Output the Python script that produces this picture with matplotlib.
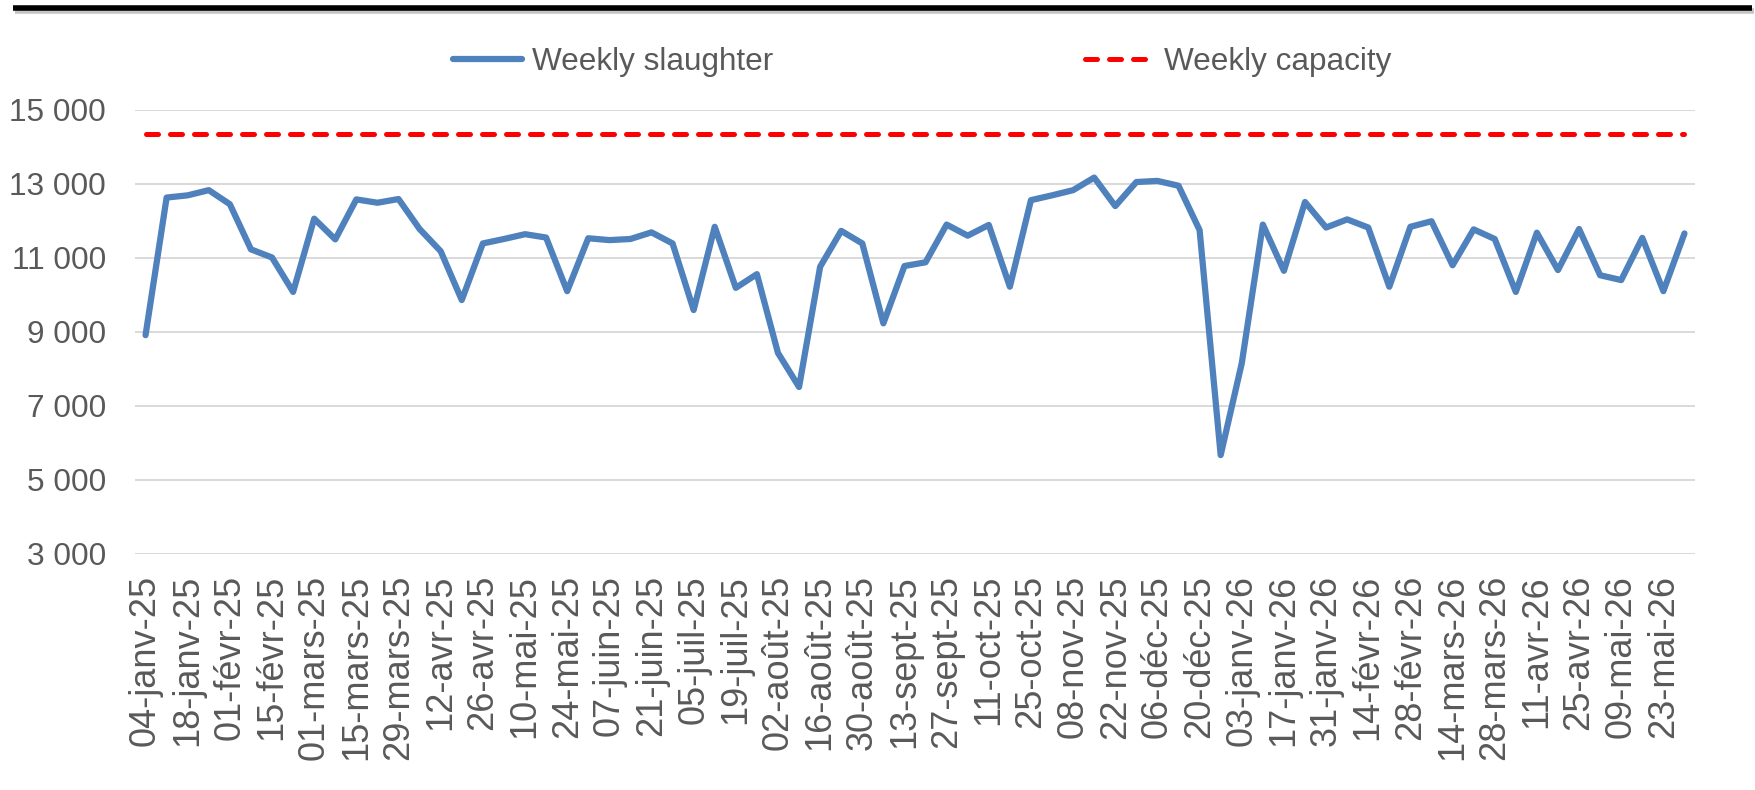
import numpy as np
import matplotlib.pyplot as plt
import matplotlib.patheffects as pe
from matplotlib.lines import Line2D
from matplotlib.ticker import FuncFormatter

# -------- DATA --------
# weekly slaughter, one value per week from 04-janv-25 to 30-mai-26
slaughter = [8900, 12620, 12680, 12820, 12440, 11220, 11000, 10070, 12050, 11490,
             12570, 12480, 12580, 11770, 11170, 9850, 11380, 11500, 11630, 11540,
             10090, 11520, 11470, 11500, 11680, 11380, 9580, 11830, 10180, 10550,
             8420, 7500, 10750, 11720, 11380, 9220, 10770, 10870, 11890, 11590,
             11880, 10210, 12550, 12680, 12820, 13160, 12390, 13040, 13070, 12940,
             11740, 5660, 8140, 11890, 10640, 12500, 11810, 12030, 11810, 10210,
             11830, 11980, 10790, 11760, 11500, 10070, 11670, 10660, 11770, 10520,
             10390, 11530, 10090, 11650]

capacity = 14350

# one label every second week
week_labels = ["04-janv-25", "18-janv-25", "01-févr-25", "15-févr-25", "01-mars-25",
               "15-mars-25", "29-mars-25", "12-avr-25", "26-avr-25", "10-mai-25",
               "24-mai-25", "07-juin-25", "21-juin-25", "05-juil-25", "19-juil-25",
               "02-août-25", "16-août-25", "30-août-25", "13-sept-25", "27-sept-25",
               "11-oct-25", "25-oct-25", "08-nov-25", "22-nov-25", "06-déc-25",
               "20-déc-25", "03-janv-26", "17-janv-26", "31-janv-26", "14-févr-26",
               "28-févr-26", "14-mars-26", "28-mars-26", "11-avr-26", "25-avr-26",
               "09-mai-26", "23-mai-26"]

y_ticks = [3000, 5000, 7000, 9000, 11000, 13000, 15000]

# -------- STYLE --------
plt.rcParams["font.family"] = ["Liberation Sans", "DejaVu Sans"]
GREY = "#595959"
BLUE = "#4F81BD"
RED = "#FF0000"
FS = 22.7

W, H = 1756, 790
fig = plt.figure(figsize=(W / 100, H / 100), dpi=100)
ax = fig.add_axes([135 / W, (H - 553.5) / H, (1695 - 135) / W, (553.5 - 109.5) / H])

x = np.arange(len(slaughter))

# -------- PLOTTING --------
ax.plot(x, slaughter, color=BLUE, lw=4.5, solid_joinstyle="round",
        solid_capstyle="round", label="Weekly slaughter", zorder=3)
ax.plot([x[0], x[-1]], [capacity, capacity], color=RED, lw=3.6,
        dashes=(2.4, 2.4), dash_capstyle="round", label="Weekly capacity", zorder=2)

ax.set_xlim(-0.5, len(slaughter) - 0.5)
ax.set_ylim(y_ticks[0], y_ticks[-1])
ax.set_yticks(y_ticks)
ax.yaxis.set_major_formatter(FuncFormatter(lambda v, p: f"{int(v):,}".replace(",", " ")))
ax.set_xticks(x[::2])
ax.set_xticklabels(week_labels, rotation=90)

ax.grid(axis="y", color="#D9D9D9", lw=1.4)
ax.set_axisbelow(True)
for s in ax.spines.values():
    s.set_visible(False)
ax.tick_params(axis="y", length=0, pad=21, labelsize=FS, labelcolor=GREY)
ax.tick_params(axis="x", length=0, pad=15.5, labelsize=26, labelcolor=GREY)

leg = fig.legend(loc="center", bbox_to_anchor=(922 / W, 1 - 62 / H), ncol=2,
                 frameon=False, fontsize=FS, handlelength=2.2, handletextpad=0.3,
                 columnspacing=9.9, borderaxespad=0)
for t in leg.get_texts():
    t.set_color(GREY)

# black rule across the top with a soft shadow
rule = Line2D([13 / W, 1752 / W], [1 - 7.5 / H, 1 - 7.5 / H], transform=fig.transFigure,
              color="black", lw=4.0, solid_capstyle="butt",
              path_effects=[pe.SimpleLineShadow(offset=(1.5, -2.5), shadow_color="#808080", alpha=0.45),
                            pe.Normal()])
fig.add_artist(rule)

fig.savefig("out.png", dpi=100, facecolor="white")
